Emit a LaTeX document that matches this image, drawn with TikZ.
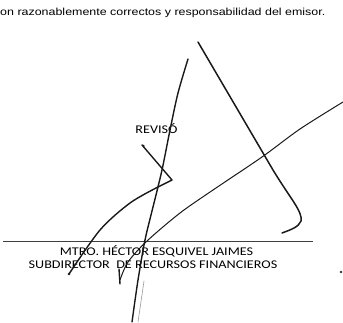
\documentclass[tikz,border=0pt]{standalone}
\usepackage{fontspec}
\newfontfamily\arialfont{Liberation Sans}
\newfontfamily\calibrifont{Carlito}
\usetikzlibrary{positioning}

\tikzset{
  ink/.style={line width=1.4pt, line cap=round, line join=round, black!90},
  fineink/.style={line width=1pt, line cap=round, line join=round, black!90},
  faint/.style={line width=0.6pt, line cap=round, black!40},
  label/.style={inner sep=0pt, anchor=base, xscale=1.2, font=\calibrifont\fontsize{11.8}{11.8}\selectfont, text=black}
}

\begin{document}
\begin{tikzpicture}[x=1pt, y=-1pt]
    \useasboundingbox (0,0) rectangle (343,322);

    \node[inner sep=0pt, anchor=base west, xscale=1.22, font=\arialfont\fontsize{10.2}{10.2}\selectfont, text=black] (note) at (0,15.3) {on razonablemente correctos y responsabilidad del emisor.};

    \node[label] (reviso) at (156.5,133) {REVISÓ};
    \draw[line width=0.8pt, black!75] (3,241) -- (313,241);
    \node[label] (name) at (156.5,255.5) {MTRO. HÉCTOR ESQUIVEL JAIMES};
    \node[label] (post) at (153,268) {SUBDIRECTOR\ \ DE RECURSOS FINANCIEROS};

    \draw[ink] plot[smooth] coordinates {(188,59) (178,93) (170,130) (162,170) (153,207) (145,240) (138,280) (132,322)};
    \draw[faint] (144,281) -- (138,322);

    \draw[ink] (144,146) -- (142,145) -- (172,180) -- (158,187)
      plot[smooth] coordinates {(158,187) (130,203) (100,230) (69,274)};
    \fill[black!90] (69,274) circle (1.4);

    \draw[ink, line width=1.5pt] (198,42) -- (273,170) .. controls (290,198) and (303,212) .. (301,221)
      .. controls (299,227) and (290,230) .. (282,233);

    \draw[fineink] plot[smooth] coordinates {(343,102) (300,129) (262,157) (213,190) (180,213) (147,241) (128,262) (120,280)};
    \draw[ink] (119,269) -- (120,284);

    \fill[black!80] (341,272) circle (1.4);
\end{tikzpicture}
\end{document}
